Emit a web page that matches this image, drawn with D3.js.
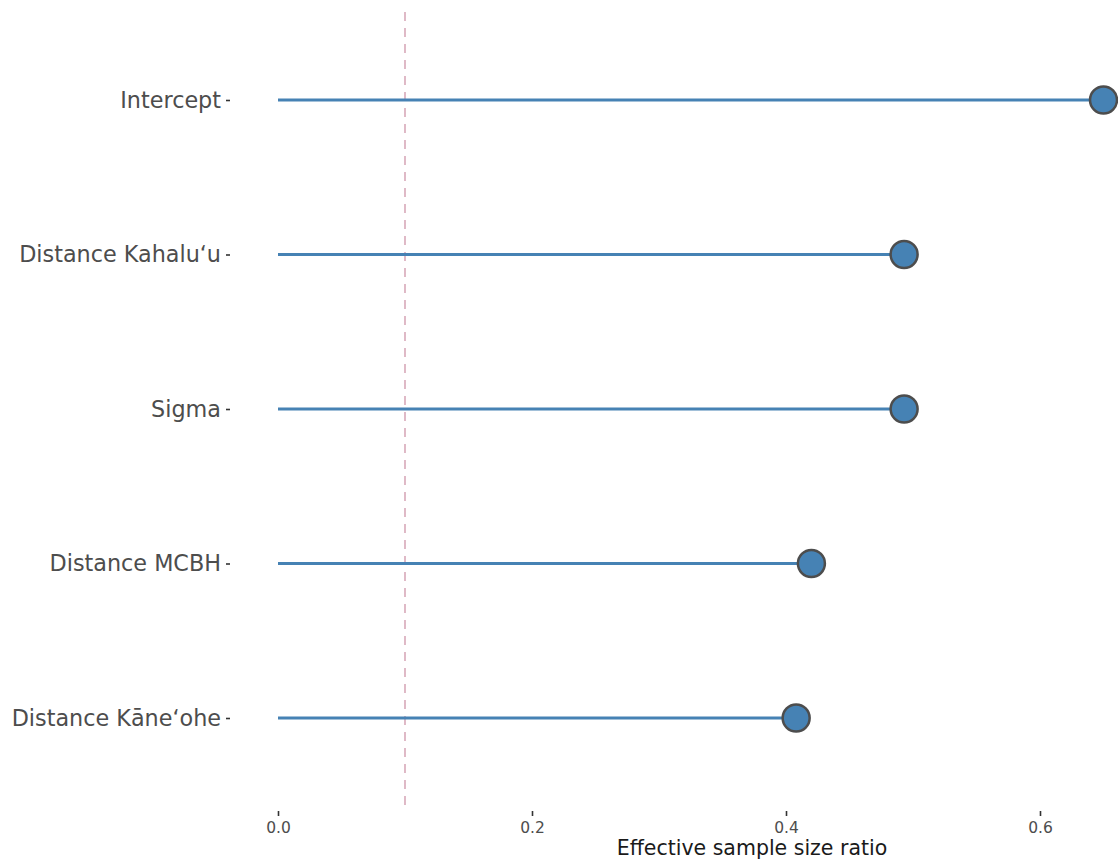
<!DOCTYPE html>
<html>
<head>
<meta charset="utf-8">
<script src="https://cdn.jsdelivr.net/npm/d3@7"></script>
<style>
  body { margin: 0; background: #fff; }
  svg { display: block; font-family: "DejaVu Sans", sans-serif; }
</style>
</head>
<body>
<svg id="chart" width="1118" height="862"></svg>
<script>
// Parameters and their effective sample size ratios
const parameters = ["Intercept", "Distance Kahalu\u2018u", "Sigma", "Distance MCBH", "Distance K\u0101ne\u2018ohe"];
const essRatio = [0.650, 0.493, 0.493, 0.420, 0.408];
const xTicks = [0.0, 0.2, 0.4, 0.6];
const xTickLabels = ["0.0", "0.2", "0.4", "0.6"];
const threshold = [0.1];

const svg = d3.select("#chart");

const x = d3.scaleLinear().domain([0, 0.2]).range([278, 532]);
const y = d3.scalePoint().domain(parameters).range([100, 718]);

// Reference threshold
svg.selectAll(".thresh").data(threshold).join("line")
  .attr("x1", d => x(d)).attr("x2", d => x(d))
  .attr("y1", 12).attr("y2", 810)
  .attr("stroke", "#d8a9b9").attr("stroke-width", 1.6)
  .attr("stroke-dasharray", "9,7");

const data = parameters.map((p, i) => ({ p, v: essRatio[i] }));

// Lollipop stems
svg.selectAll(".stem").data(data).join("line")
  .attr("x1", x(0)).attr("x2", d => x(d.v))
  .attr("y1", d => y(d.p)).attr("y2", d => y(d.p))
  .attr("stroke", "#4682b4").attr("stroke-width", 3);

// Lollipop heads
svg.selectAll(".head").data(data).join("circle")
  .attr("cx", d => x(d.v)).attr("cy", d => y(d.p))
  .attr("r", 13.5)
  .attr("fill", "#4682b4").attr("stroke", "#4d4d4d").attr("stroke-width", 2.5);

// Y axis labels and ticks
const yAxis = d3.axisLeft(y).tickSize(4).tickPadding(5);
const gy = svg.append("g").attr("transform", "translate(230,0)").call(yAxis);
gy.select(".domain").remove();
gy.selectAll(".tick line").attr("stroke", "#333").attr("stroke-width", 1.6);
gy.selectAll(".tick text").attr("font-size", 22.3).attr("fill", "#4d4d4d")
  .attr("font-family", "DejaVu Sans, sans-serif");

// X axis
const xAxis = d3.axisBottom(x).tickValues(xTicks)
  .tickFormat((d, i) => xTickLabels[i]).tickSize(5).tickPadding(4);
const gx = svg.append("g").attr("transform", "translate(0,811)").call(xAxis);
gx.select(".domain").remove();
gx.selectAll(".tick line").attr("stroke", "#333").attr("stroke-width", 1.6);
gx.selectAll(".tick text").attr("font-size", 15.5).attr("fill", "#4d4d4d")
  .attr("dy", null).attr("y", 22)
  .attr("font-family", "DejaVu Sans, sans-serif");

svg.append("text")
  .attr("x", 752).attr("y", 855)
  .attr("text-anchor", "middle")
  .attr("font-size", 20.5).attr("fill", "#1a1a1a")
  .text("Effective sample size ratio");
</script>
</body>
</html>
